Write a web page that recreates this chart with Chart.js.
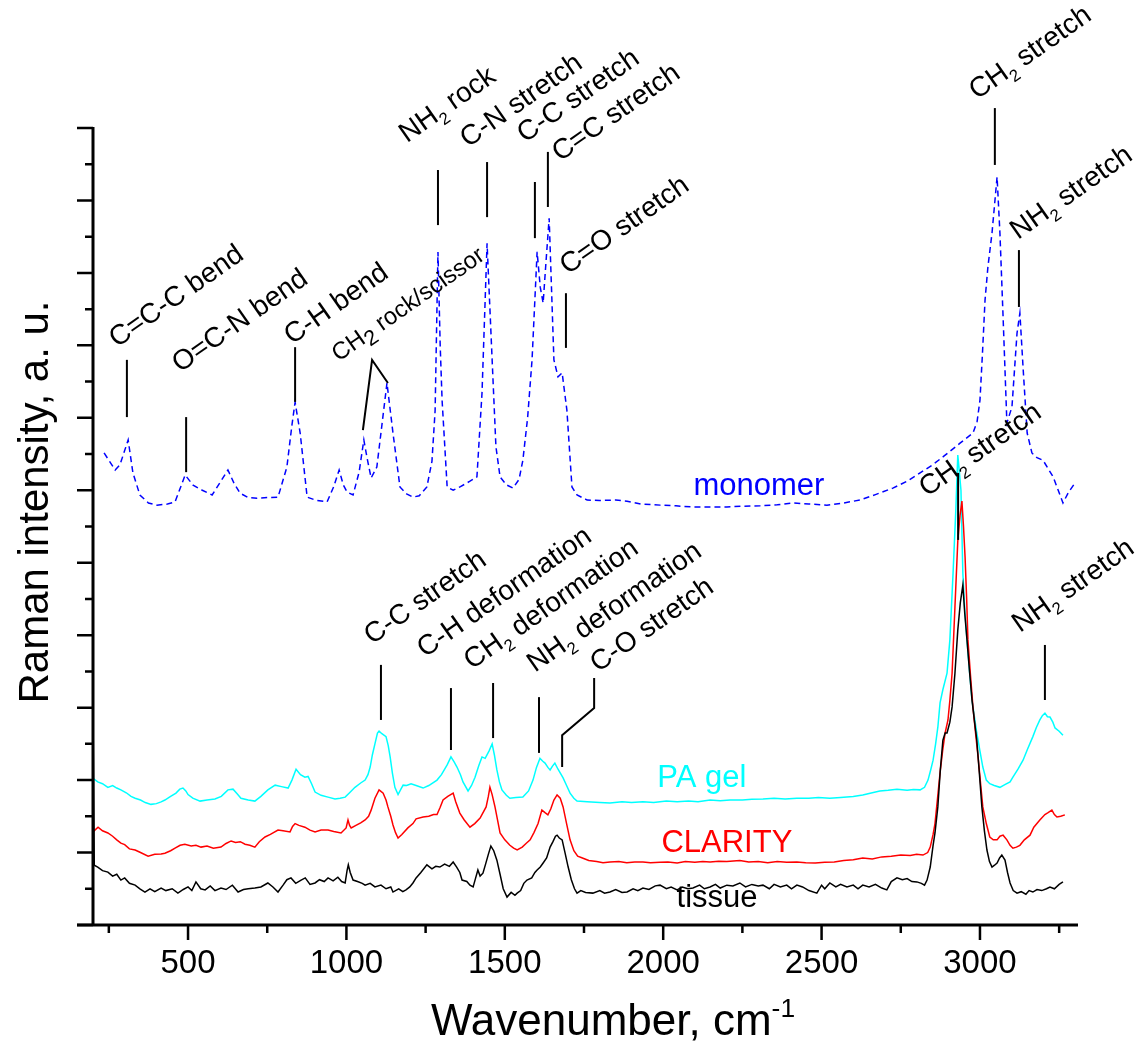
<!DOCTYPE html>
<html>
<head>
<meta charset="utf-8">
<script src="https://cdn.jsdelivr.net/npm/chart.js@4.4.1/dist/chart.umd.min.js"></script>
<style>
  body { margin: 0; background: #fff; }
</style>
</head>
<body>
<canvas id="chart" width="1144" height="1045"></canvas>
<script>
const FONT = '"Liberation Sans", Arial, sans-serif';

// tick labels on the wavenumber axis
const xTickLabels = [500, 1000, 1500, 2000, 2500, 3000];

// spectra (wavenumber in cm-1, intensity in axis units)
const monomerWn = [235, 270, 285, 311, 326, 348, 375, 402, 435, 459, 491, 516, 545, 576, 600, 626, 645, 664, 690, 718, 750, 784, 812, 828, 838, 854, 876, 905, 939, 960, 977, 990, 1002, 1021, 1040, 1055, 1065, 1078, 1096, 1112, 1128, 1147, 1169, 1190, 1210, 1230, 1254, 1270, 1280, 1289, 1296, 1302, 1318, 1337, 1360, 1390, 1412, 1428, 1444, 1460, 1472, 1485, 1505, 1526, 1545, 1557, 1572, 1586, 1602, 1612, 1621, 1630, 1640, 1655, 1668, 1681, 1696, 1712, 1728, 1760, 1800, 1850, 1886, 1930, 1990, 2040, 2094, 2150, 2201, 2250, 2306, 2360, 2410, 2460, 2517, 2570, 2621, 2670, 2725, 2770, 2811, 2850, 2883, 2937, 2978, 2991, 3000, 3008, 3016, 3025, 3038, 3054, 3063, 3073, 3085, 3101, 3117, 3126, 3136, 3149, 3164, 3180, 3199, 3215, 3231, 3247, 3262, 3280, 3300];
const monomerInt = [13.03, 12.56, 12.7, 13.39, 12.48, 11.87, 11.65, 11.59, 11.62, 11.68, 12.42, 12.14, 12.0, 11.87, 12.2, 12.56, 12.2, 11.92, 11.8, 11.78, 11.8, 11.81, 12.64, 13.8, 14.43, 13.58, 11.81, 11.72, 11.68, 12.1, 12.56, 12.15, 11.95, 11.87, 12.5, 13.39, 12.9, 12.34, 12.64, 13.8, 14.96, 13.58, 12.09, 11.9, 11.81, 11.85, 12.09, 12.8, 14.2, 18.58, 16.0, 14.49, 12.09, 12.0, 12.1, 12.25, 12.37, 14.68, 18.82, 15.6, 13.2, 12.37, 12.15, 12.06, 12.3, 12.83, 14.0, 15.6, 18.58, 17.6, 17.17, 18.3, 19.51, 15.6, 15.13, 15.24, 14.21, 12.09, 11.87, 11.73, 11.72, 11.73, 11.7, 11.62, 11.59, 11.57, 11.54, 11.54, 11.54, 11.56, 11.57, 11.6, 11.65, 11.62, 11.59, 11.65, 11.73, 11.88, 12.06, 12.25, 12.48, 12.7, 12.92, 13.3, 13.58, 13.9, 14.49, 15.8, 17.25, 18.16, 19.1, 20.65, 19.1, 16.78, 13.86, 14.3, 16.34, 16.89, 15.4, 13.58, 13.03, 12.9, 12.83, 12.6, 12.37, 12.0, 11.65, 11.95, 12.2];

const gelWn = [200, 215, 230, 247, 262, 275, 288, 305, 320, 333, 350, 365, 383, 400, 415, 427, 445, 462, 474, 484, 493, 500, 515, 538, 560, 585, 605, 626, 642, 655, 667, 690, 711, 730, 752, 775, 795, 816, 828, 841, 855, 869, 879, 890, 901, 920, 942, 964, 980, 996, 1010, 1027, 1045, 1059, 1068, 1075, 1082, 1090, 1098, 1103, 1112, 1125, 1132, 1138, 1145, 1153, 1163, 1172, 1179, 1190, 1204, 1220, 1242, 1260, 1286, 1300, 1318, 1330, 1340, 1349, 1360, 1368, 1384, 1395, 1406, 1418, 1428, 1438, 1450, 1460, 1467, 1475, 1483, 1491, 1505, 1516, 1535, 1557, 1575, 1589, 1600, 1611, 1620, 1627, 1636, 1643, 1650, 1658, 1668, 1684, 1695, 1706, 1718, 1728, 1760, 1800, 1832, 1870, 1900, 1936, 1970, 2010, 2044, 2080, 2110, 2148, 2180, 2211, 2250, 2280, 2315, 2350, 2385, 2422, 2460, 2490, 2526, 2560, 2600, 2630, 2660, 2684, 2710, 2738, 2770, 2790, 2811, 2825, 2836, 2845, 2852, 2860, 2867, 2874, 2883, 2896, 2905, 2915, 2924, 2930, 2935, 2940, 2946, 2952, 2959, 2967, 2975, 2990, 3000, 3009, 3020, 3031, 3045, 3063, 3080, 3095, 3104, 3120, 3136, 3150, 3167, 3178, 3189, 3197, 3205, 3213, 3221, 3230, 3237, 3250, 3262];
const gelInt = [4.05, 3.95, 3.9, 3.8, 3.85, 3.78, 3.73, 3.65, 3.55, 3.5, 3.45, 3.38, 3.33, 3.35, 3.4, 3.45, 3.55, 3.64, 3.75, 3.78, 3.7, 3.6, 3.5, 3.42, 3.45, 3.48, 3.55, 3.73, 3.75, 3.62, 3.5, 3.45, 3.42, 3.55, 3.73, 3.86, 3.82, 3.78, 4.0, 4.3, 4.15, 4.08, 4.1, 3.9, 3.67, 3.58, 3.53, 3.48, 3.5, 3.53, 3.65, 3.8, 3.92, 4.0, 4.15, 4.36, 4.7, 5.0, 5.3, 5.35, 5.28, 5.2, 4.95, 4.64, 4.2, 3.8, 3.6, 3.75, 3.86, 3.85, 3.9, 3.85, 3.78, 3.85, 4.0, 4.15, 4.42, 4.64, 4.5, 4.36, 4.15, 3.95, 3.7, 3.85, 4.08, 4.4, 4.64, 4.6, 4.8, 5.0, 4.7, 4.28, 3.95, 3.73, 3.58, 3.5, 3.52, 3.53, 3.7, 4.0, 4.35, 4.6, 4.52, 4.47, 4.35, 4.28, 4.38, 4.47, 4.3, 4.06, 3.85, 3.64, 3.5, 3.42, 3.4, 3.38, 3.37, 3.4, 3.38, 3.4, 3.38, 3.42, 3.4, 3.42, 3.4, 3.45, 3.43, 3.45, 3.45, 3.47, 3.48, 3.5, 3.48, 3.5, 3.5, 3.52, 3.5, 3.52, 3.55, 3.59, 3.65, 3.7, 3.72, 3.75, 3.72, 3.74, 3.73, 3.8, 4.0, 4.3, 4.55, 5.0, 5.46, 6.13, 6.5, 6.95, 7.87, 9.7, 11.5, 12.97, 12.5, 12.0, 9.7, 8.7, 7.87, 7.0, 6.2, 5.3, 4.8, 4.36, 4.0, 3.9, 3.85, 3.8, 3.88, 3.95, 4.08, 4.3, 4.55, 4.85, 5.2, 5.45, 5.66, 5.78, 5.85, 5.75, 5.74, 5.6, 5.44, 5.35, 5.24];

const clarityWn = [200, 216, 230, 247, 262, 275, 288, 300, 315, 333, 350, 374, 395, 415, 427, 445, 459, 475, 490, 510, 525, 541, 560, 580, 604, 620, 636, 650, 665, 680, 695, 711, 725, 743, 760, 784, 800, 822, 830, 838, 850, 869, 885, 901, 920, 942, 960, 983, 999, 1005, 1010, 1015, 1030, 1045, 1059, 1070, 1078, 1090, 1103, 1110, 1116, 1125, 1131, 1140, 1147, 1155, 1163, 1175, 1194, 1210, 1220, 1242, 1260, 1275, 1286, 1296, 1305, 1320, 1337, 1345, 1358, 1372, 1390, 1405, 1422, 1441, 1448, 1453, 1460, 1469, 1477, 1485, 1500, 1516, 1528, 1539, 1555, 1567, 1580, 1592, 1605, 1617, 1627, 1636, 1645, 1655, 1665, 1675, 1684, 1695, 1706, 1718, 1730, 1745, 1765, 1790, 1810, 1832, 1860, 1885, 1910, 1936, 1960, 1990, 2015, 2044, 2070, 2100, 2125, 2148, 2175, 2201, 2242, 2270, 2300, 2330, 2360, 2390, 2422, 2450, 2480, 2510, 2540, 2570, 2600, 2630, 2660, 2690, 2720, 2750, 2780, 2800, 2820, 2835, 2843, 2852, 2858, 2866, 2874, 2882, 2890, 2899, 2905, 2912, 2921, 2930, 2937, 2943, 2948, 2953, 2958, 2962, 2970, 2978, 2986, 2994, 3002, 3009, 3020, 3031, 3042, 3054, 3063, 3073, 3085, 3095, 3104, 3115, 3126, 3140, 3158, 3170, 3189, 3205, 3215, 3227, 3235, 3243, 3255, 3268];
const clarityInt = [2.57, 2.7, 2.6, 2.54, 2.45, 2.35, 2.26, 2.22, 2.1, 2.07, 2.0, 1.9, 1.95, 1.96, 1.98, 2.05, 2.12, 2.2, 2.23, 2.18, 2.2, 2.15, 2.18, 2.12, 2.15, 2.25, 2.32, 2.28, 2.3, 2.23, 2.2, 2.15, 2.3, 2.43, 2.5, 2.62, 2.6, 2.57, 2.72, 2.8, 2.75, 2.7, 2.62, 2.57, 2.62, 2.62, 2.58, 2.54, 2.68, 2.9, 2.75, 2.68, 2.75, 2.82, 2.9, 3.0, 3.17, 3.5, 3.73, 3.68, 3.64, 3.45, 3.26, 3.0, 2.76, 2.55, 2.4, 2.5, 2.68, 2.8, 2.93, 2.98, 3.0, 3.05, 3.05, 3.25, 3.45, 3.55, 3.64, 3.4, 3.09, 2.9, 2.7, 2.8, 2.95, 3.26, 3.55, 3.8, 3.6, 3.26, 2.9, 2.54, 2.35, 2.2, 2.12, 2.07, 2.15, 2.25, 2.35, 2.55, 2.8, 3.17, 3.1, 3.04, 3.2, 3.45, 3.59, 3.5, 3.26, 2.8, 2.35, 2.05, 1.9, 1.85, 1.78, 1.75, 1.72, 1.74, 1.75, 1.72, 1.74, 1.74, 1.72, 1.73, 1.74, 1.71, 1.75, 1.73, 1.75, 1.74, 1.76, 1.75, 1.78, 1.74, 1.75, 1.72, 1.75, 1.73, 1.74, 1.72, 1.71, 1.73, 1.74, 1.78, 1.8, 1.85, 1.82, 1.88, 1.9, 1.93, 1.92, 1.95, 1.93, 2.0, 2.15, 2.5, 2.8, 3.5, 4.2, 4.8, 5.3, 5.66, 6.2, 6.95, 8.78, 10.6, 11.3, 11.7, 11.0, 10.15, 9.0, 7.87, 6.9, 6.0, 5.3, 4.64, 3.9, 3.26, 2.8, 2.43, 2.35, 2.35, 2.45, 2.48, 2.35, 2.2, 2.12, 2.15, 2.2, 2.35, 2.48, 2.7, 2.9, 3.05, 3.1, 3.17, 3.05, 2.98, 3.0, 3.04];

const tissueWn = [200, 204, 215, 230, 247, 262, 275, 288, 300, 315, 333, 348, 364, 380, 395, 415, 430, 450, 468, 485, 500, 512, 525, 540, 554, 570, 585, 604, 620, 640, 658, 675, 690, 711, 730, 752, 768, 784, 800, 812, 825, 840, 857, 870, 885, 901, 915, 930, 942, 958, 973, 985, 996, 1002, 1006, 1012, 1021, 1035, 1050, 1059, 1075, 1090, 1109, 1125, 1140, 1147, 1165, 1178, 1188, 1200, 1210, 1220, 1235, 1254, 1270, 1282, 1295, 1310, 1325, 1337, 1348, 1358, 1365, 1380, 1390, 1400, 1408, 1415, 1422, 1431, 1440, 1448, 1456, 1465, 1475, 1485, 1495, 1507, 1520, 1532, 1539, 1550, 1560, 1570, 1585, 1595, 1602, 1612, 1621, 1632, 1643, 1652, 1660, 1665, 1672, 1681, 1690, 1700, 1710, 1720, 1728, 1740, 1755, 1778, 1800, 1815, 1832, 1850, 1870, 1886, 1905, 1920, 1936, 1955, 1975, 1990, 2010, 2025, 2044, 2060, 2078, 2094, 2115, 2130, 2148, 2165, 2180, 2201, 2220, 2242, 2260, 2280, 2300, 2315, 2335, 2350, 2370, 2390, 2405, 2422, 2440, 2460, 2485, 2500, 2510, 2526, 2545, 2560, 2580, 2600, 2615, 2630, 2650, 2670, 2690, 2706, 2720, 2738, 2755, 2770, 2785, 2801, 2815, 2825, 2833, 2843, 2852, 2858, 2867, 2875, 2883, 2890, 2896, 2905, 2912, 2921, 2930, 2938, 2946, 2952, 2959, 2967, 2975, 2983, 2990, 2998, 3006, 3014, 3022, 3030, 3038, 3046, 3054, 3062, 3069, 3079, 3087, 3095, 3105, 3117, 3130, 3145, 3155, 3167, 3180, 3195, 3210, 3221, 3235, 3250, 3262];
const tissueInt = [6.05, 1.65, 1.6, 1.5, 1.46, 1.35, 1.4, 1.24, 1.3, 1.15, 1.1, 1.0, 0.91, 1.0, 0.92, 1.02, 0.95, 1.0, 0.88, 0.98, 1.05, 0.95, 1.19, 1.0, 0.97, 1.08, 0.95, 1.02, 0.98, 1.1, 0.91, 0.98, 1.0, 1.02, 1.05, 1.16, 1.05, 0.91, 1.1, 1.25, 1.3, 1.15, 1.24, 1.3, 1.12, 1.16, 1.25, 1.2, 1.3, 1.22, 1.32, 1.2, 1.16, 1.5, 1.66, 1.45, 1.24, 1.2, 1.15, 1.1, 1.15, 1.05, 1.1, 1.0, 1.05, 0.91, 1.0, 0.92, 0.97, 1.05, 1.16, 1.3, 1.45, 1.66, 1.55, 1.62, 1.6, 1.68, 1.62, 1.74, 1.6, 1.45, 1.24, 1.2, 1.1, 1.05, 1.3, 1.52, 1.35, 1.43, 1.7, 1.95, 2.18, 2.05, 1.79, 1.4, 1.0, 0.77, 0.9, 0.82, 0.88, 0.95, 1.15, 1.24, 1.3, 1.45, 1.52, 1.6, 1.71, 1.85, 2.15, 2.3, 2.45, 2.48, 2.4, 2.35, 2.0, 1.6, 1.25, 1.0, 0.88, 0.95, 0.9, 0.88, 0.95, 0.88, 0.91, 0.98, 0.9, 0.91, 1.0, 0.95, 1.02, 0.98, 1.08, 1.1, 1.0, 1.05, 0.97, 1.05, 1.0, 1.02, 1.1, 1.0, 1.05, 1.12, 1.02, 1.1, 1.08, 1.16, 1.05, 1.12, 1.08, 1.1, 1.0, 1.12, 1.05, 1.1, 1.0, 1.1, 1.05, 0.95, 0.88, 1.1, 1.0, 1.16, 1.05, 1.12, 1.05, 1.1, 1.0, 1.1, 1.05, 1.12, 1.02, 0.97, 1.2, 1.3, 1.25, 1.28, 1.2, 1.19, 1.15, 1.1, 1.24, 1.6, 2.2, 2.54, 3.26, 4.3, 5.1, 5.3, 5.3, 5.6, 6.02, 6.95, 8.14, 8.9, 9.38, 8.6, 7.87, 7.0, 6.2, 5.6, 5.1, 4.2, 3.26, 2.6, 2.07, 1.75, 1.6, 1.65, 1.71, 1.85, 1.93, 1.79, 1.45, 1.16, 0.95, 0.88, 0.92, 0.85, 0.95, 0.91, 0.98, 0.95, 1.0, 1.05, 1.0, 1.12, 1.19];

// curve names written next to each spectrum
const seriesNames = ['monomer', 'PA gel', 'CLARITY', 'tissue'];
const seriesColors = ['#0000ff', '#00ffff', '#ff0000', '#000000'];
const seriesNameAt = [[2302, 11.87], [2122, 3.81], [2201, 2.01], [2170, 0.5]];

// peak assignments: text start and leader line, in axis units
const notes = [
  { text: 'C=C-C bend', at: [276, 15.93], line: [[307, 15.6], [307, 14.02]] },
  { text: 'O=C-N bend', at: [475, 15.24], line: [[494, 14.02], [494, 12.5]] },
  { text: 'C-H bend', at: [828, 16.01], line: [[838, 15.95], [838, 14.44]] },
  { text: 'CH_{2} rock/scissor', at: [975, 15.54], line: [[1052, 13.66], [1081, 15.6], [1131, 14.96]], size: 24, sub: 0.9 },
  { text: 'NH_{2} rock', at: [1191, 21.58], line: [[1289, 20.84], [1289, 19.32]] },
  { text: 'C-N stretch', at: [1384, 21.45], line: [[1444, 21.06], [1444, 19.54]] },
  { text: 'C-C stretch', at: [1564, 21.58], line: [[1595, 20.51], [1595, 18.96]] },
  { text: 'C=C stretch', at: [1674, 21.06], line: [[1636, 21.34], [1636, 19.82]] },
  { text: 'C=O stretch', at: [1699, 17.94], line: [[1693, 17.44], [1693, 15.93]] },
  { text: 'CH_{2} stretch', at: [2991, 22.77], line: [[3047, 22.55], [3047, 20.98]] },
  { text: 'NH_{2} stretch', at: [3120, 18.91], line: [[3123, 18.63], [3123, 17.06]] },
  { text: 'CH_{2} stretch', at: [2833, 11.81], line: [[2931, 12.48], [2931, 10.63]] },
  { text: 'C-C stretch', at: [1081, 7.73], line: [[1109, 7.18], [1109, 5.66]] },
  { text: 'C-H deformation', at: [1248, 7.37], line: [[1330, 6.54], [1330, 4.83]] },
  { text: 'CH_{2} deformation', at: [1396, 7.04], line: [[1463, 6.68], [1463, 5.16]] },
  { text: 'NH_{2} deformation', at: [1595, 6.96], line: [[1608, 6.29], [1608, 4.75]] },
  { text: 'C-O stretch', at: [1794, 6.96], line: [[1782, 6.82], [1782, 5.99], [1681, 5.24], [1681, 4.36]] },
  { text: 'NH_{2} stretch', at: [3126, 8.06], line: [[3205, 7.73], [3205, 6.21]] },
];

function toPoints(xs, ys) {
  return xs.map((x, i) => ({ x, y: ys[i] }));
}

// split "CH_{2}" / "cm^{-1}" into runs of normal, sub and super text
function richParts(str) {
  const out = [];
  const re = /([_^])\{([^}]*)\}/g;
  let last = 0, m;
  while ((m = re.exec(str))) {
    if (m.index > last) out.push({ t: str.slice(last, m.index), k: '' });
    out.push({ t: m[2], k: m[1] });
    last = re.lastIndex;
  }
  if (last < str.length) out.push({ t: str.slice(last), k: '' });
  return out;
}

function drawRich(ctx, str, x, y, angle, size, subScale = 0.6) {
  ctx.save();
  ctx.translate(x, y);
  ctx.rotate(-angle * Math.PI / 180);
  ctx.textBaseline = 'alphabetic';
  ctx.textAlign = 'left';
  let cx = 0;
  for (const p of richParts(str)) {
    const s = p.k ? size * subScale : size;
    const dy = p.k === '_' ? size * 0.25 : p.k === '^' ? -size * 0.42 : 0;
    ctx.font = `${s}px ${FONT}`;
    ctx.fillText(p.t, cx, dy);
    cx += ctx.measureText(p.t).width;
  }
  ctx.restore();
}

function richWidth(ctx, str, size, subScale = 0.6) {
  let w = 0;
  for (const p of richParts(str)) {
    ctx.font = `${p.k ? size * subScale : size}px ${FONT}`;
    w += ctx.measureText(p.t).width;
  }
  return w;
}

const decorations = {
  id: 'decorations',
  afterDatasetsDraw(chart) {
    const { ctx, chartArea, scales: { x, y } } = chart;
    const X = (v) => x.getPixelForValue(v);
    const Y = (v) => y.getPixelForValue(v);
    ctx.save();

    // axis lines and tick marks
    ctx.strokeStyle = '#000';
    ctx.lineCap = 'butt';
    ctx.lineWidth = 3;
    ctx.beginPath();
    ctx.moveTo(chartArea.left, chartArea.top - 1);
    ctx.lineTo(chartArea.left, chartArea.bottom);
    ctx.moveTo(chartArea.left - 16, chartArea.bottom);
    ctx.lineTo(chartArea.right + 3, chartArea.bottom);
    ctx.stroke();

    ctx.lineWidth = 2.5;
    ctx.beginPath();
    y.ticks.forEach((t) => {
      const len = t.value % 2 === 0 ? 16 : 8;
      ctx.moveTo(chartArea.left - len, Y(t.value));
      ctx.lineTo(chartArea.left, Y(t.value));
    });
    const step = xTickLabels[1] - xTickLabels[0];
    const marks = [];
    xTickLabels.forEach((v) => marks.push([v, 15], [v - step / 2, 8]));
    marks.push([xTickLabels[xTickLabels.length - 1] + step / 2, 8]);
    marks.forEach(([v, len]) => {
      ctx.moveTo(X(v), chartArea.bottom);
      ctx.lineTo(X(v), chartArea.bottom + len);
    });
    ctx.stroke();

    // peak assignments
    ctx.fillStyle = '#000';
    ctx.lineWidth = 2;
    notes.forEach((n) => {
      ctx.beginPath();
      n.line.forEach(([vx, vy], i) => {
        if (i === 0) ctx.moveTo(X(vx), Y(vy));
        else ctx.lineTo(X(vx), Y(vy));
      });
      ctx.stroke();
      drawRich(ctx, n.text, X(n.at[0]), Y(n.at[1]), 35, n.size || 28, n.sub || 0.6);
    });

    // series names
    ctx.textAlign = 'center';
    ctx.textBaseline = 'alphabetic';
    ctx.font = `31px ${FONT}`;
    seriesNames.forEach((name, i) => {
      ctx.fillStyle = seriesColors[i];
      ctx.fillText(name, X(seriesNameAt[i][0]), Y(seriesNameAt[i][1]));
    });

    // axis titles
    ctx.fillStyle = '#000';
    const xTitle = 'Wavenumber, cm^{-1}';
    const xw = richWidth(ctx, xTitle, 44);
    drawRich(ctx, xTitle, 613 - xw / 2, 1035, 0, 44);
    const yTitle = 'Raman intensity, a. u.';
    const yw = richWidth(ctx, yTitle, 42);
    drawRich(ctx, yTitle, 48, 502 + yw / 2, 90, 42);

    ctx.restore();
  },
};

const chart = new Chart(document.getElementById('chart'), {
  type: 'line',
  data: {
    datasets: [
      { label: 'tissue', data: toPoints(tissueWn, tissueInt), borderColor: '#000000', borderWidth: 1.5 },
      { label: 'CLARITY', data: toPoints(clarityWn, clarityInt), borderColor: '#ff0000', borderWidth: 1.5 },
      { label: 'PA gel', data: toPoints(gelWn, gelInt), borderColor: '#00ffff', borderWidth: 1.5 },
      { label: 'monomer', data: toPoints(monomerWn, monomerInt), borderColor: '#0000ff', borderWidth: 1.5, borderDash: [6, 4] },
    ],
  },
  options: {
    responsive: false,
    animation: false,
    devicePixelRatio: 1,
    layout: { padding: { top: 128, right: 69, left: 0, bottom: 0 } },
    elements: { point: { radius: 0 }, line: { tension: 0, fill: false } },
    plugins: { legend: { display: false }, tooltip: { enabled: false } },
    scales: {
      x: {
        type: 'linear',
        min: 200,
        max: 3300,
        afterBuildTicks: (scale) => {
          scale.ticks = xTickLabels.map((v) => ({ value: v }));
        },
        afterFit: (scale) => {
          scale.height = 120;
        },
        ticks: {
          color: '#000',
          padding: 19,
          maxRotation: 0,
          autoSkip: false,
          font: { family: FONT, size: 33 },
          callback: (v) => String(v),
        },
        grid: { display: false, drawTicks: false },
        border: { display: false },
      },
      y: {
        type: 'linear',
        min: 0,
        max: 22,
        ticks: { display: false, stepSize: 1 },
        afterFit: (scale) => {
          scale.width = 93;
        },
        grid: { display: false, drawTicks: false },
        border: { display: false },
      },
    },
  },
  plugins: [decorations],
});
</script>
</body>
</html>
